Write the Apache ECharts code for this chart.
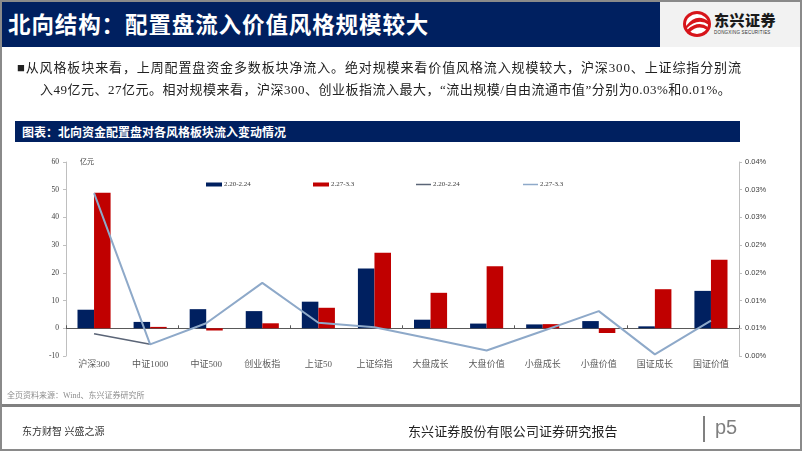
<!DOCTYPE html>
<html><head><meta charset="utf-8">
<script src="https://cdn.jsdelivr.net/npm/echarts@6.0.0/dist/echarts.min.js"></script>
<style>
html,body{margin:0;padding:0;}
body{width:802px;height:451px;overflow:hidden;position:relative;background:#fff;font-family:"Liberation Serif","Noto Sans CJK SC",serif;}
.abs{position:absolute;white-space:nowrap;}
</style></head>
<body>
<div id="chart" class="abs" style="left:0;top:0;width:802px;height:451px;"></div>

<div class="abs" style="left:0;top:0;width:660px;height:47px;background:#002060;"></div>
<div class="abs" style="left:8px;top:0;height:47px;line-height:47px;color:#fff;font-family:'Noto Sans CJK SC',sans-serif;font-weight:bold;font-size:22.5px;letter-spacing:0.9px;">北向结构：配置盘流入价值风格规模较大</div>
<div class="abs" style="left:660px;top:0;width:142px;height:47px;background:#F2F2F2;"></div>
<svg class="abs" style="left:682px;top:10px;" width="30" height="28" viewBox="0 0 30 28">
  <ellipse cx="15" cy="14" rx="14" ry="13" fill="#D7141A"/>
  <ellipse cx="15" cy="14" rx="11" ry="10" fill="#fff"/>
  <path d="M4,16 Q15,2 27,12 L27,15 Q16,7 4,19 Z" fill="#D7141A"/>
  <path d="M5,20 Q16,10 26,17 L25,20 Q16,14 7,23 Z" fill="#D7141A"/>
</svg>
<div class="abs" style="left:714px;top:11px;font-family:'Noto Sans CJK SC',sans-serif;font-weight:900;font-size:15px;color:#1a1a1a;letter-spacing:0.5px;line-height:18px;">东兴证券</div>
<div class="abs" style="left:714px;top:30px;font-family:'Liberation Sans',sans-serif;font-size:4.5px;color:#333;line-height:6px;letter-spacing:0.2px;">DONGXING SECURITIES</div>

<div class="abs" style="left:17px;top:59px;font-size:13px;line-height:18px;color:#222;letter-spacing:0.88px;">■从风格板块来看，上周配置盘资金多数板块净流入。绝对规模来看价值风格流入规模较大，沪深300、上证综指分别流</div>
<div class="abs" style="left:40px;top:81px;font-size:13px;line-height:18px;color:#222;letter-spacing:0.5px;">入49亿元、27亿元。相对规模来看，沪深300、创业板指流入最大，“流出规模/自由流通市值”分别为0.03%和0.01%。</div>

<div class="abs" style="left:15px;top:121px;width:725px;height:21px;background:#002060;"></div>
<div class="abs" style="left:22px;top:121px;height:21px;line-height:21px;color:#fff;font-family:'Noto Sans CJK SC',sans-serif;font-weight:bold;font-size:12px;">图表：北向资金配置盘对各风格板块流入变动情况</div>

<div class="abs" style="left:7px;top:391px;font-size:8px;line-height:10px;color:#8c8c8c;">全页资料来源：Wind、东兴证券研究所</div>
<div class="abs" style="left:0;top:404px;width:802px;height:3px;background:#808080;"></div>
<div class="abs" style="left:22px;top:425px;font-size:10px;line-height:14px;color:#333;">东方财智 兴盛之源</div>
<div class="abs" style="left:408px;top:423px;font-size:13px;line-height:18px;color:#222;letter-spacing:0.1px;">东兴证券股份有限公司证券研究报告</div>
<div class="abs" style="left:703px;top:416px;width:1.5px;height:26px;background:#808080;"></div>
<div class="abs" style="left:715px;top:415px;font-family:'Liberation Sans',sans-serif;font-size:20px;line-height:24px;color:#7f7f7f;">p5</div>

<div class="abs" style="left:0;top:0;width:798px;height:447px;border:2px solid #8a8a8a;pointer-events:none;"></div>

<script>
var categories = ['沪深300','中证1000','中证500','创业板指','上证50','上证综指','大盘成长','大盘价值','小盘成长','小盘价值','国证成长','国证价值'];
var flowPrev = [6.7, 2.3, 6.9, 6.2, 9.6, 21.6, 3.1, 1.7, 1.4, 2.6, 0.7, 13.5];
var flowCurr = [48.9, 0.5, -0.8, 1.8, 7.4, 27.3, 12.8, 22.4, 1.5, -1.7, 14.1, 24.7];
var ratioPrev = [0.0040, 0.0021, null, null, null, null, null, null, null, null, null, null];
var ratioCurr = [0.0294, 0.0021, 0.0059, 0.0132, 0.0060, 0.0052, 0.0031, 0.0010, 0.0045, 0.0081, 0.0003, 0.0064];
var periodNames = ['2.20-2.24', '2.27-3.3'];
var rightTickLabels = ['0.00%','0.01%','0.01%','0.02%','0.02%','0.03%','0.03%','0.04%'];
var unitLabel = '亿元';

var chart = echarts.init(document.getElementById('chart'), null, {renderer:'canvas'});
var serifFont = '"Liberation Serif","Noto Sans CJK SC",serif';
function legendAt(left, name){
  return {left:left, top:176, data:[name], itemGap:0,
    itemWidth:16, itemHeight:4, selectedMode:false,
    formatter:function(n){return n.replace(/^(bar|line) /,'');},
    textStyle:{fontSize:7, color:'#404040', fontFamily:serifFont, padding:[0,0,0,-3]}};
}
var option = {
  animation:false,
  grid:{left:66, right:63, top:162, bottom:95, containLabel:false},
  legend:[
    Object.assign(legendAt(201, 'bar '+periodNames[0]), {icon:'rect'}),
    Object.assign(legendAt(308, 'bar '+periodNames[1]), {icon:'rect'}),
    Object.assign(legendAt(411, 'line '+periodNames[0]), {icon:'rect', itemHeight:1.5, itemWidth:15}),
    Object.assign(legendAt(518, 'line '+periodNames[1]), {icon:'rect', itemHeight:1.5, itemWidth:15})
  ],
  graphic:[{type:'text', left:80, top:159, style:{text:unitLabel, fontSize:7, fill:'#404040', fontFamily:serifFont}}],
  xAxis:[
    {type:'category', data:categories, position:'bottom',
      axisLine:{show:false, onZero:false}, axisTick:{show:false},
      axisLabel:{fontSize:9, color:'#595959', fontFamily:serifFont, margin:4, interval:0}},
    {type:'category', data:categories, position:'bottom', gridIndex:0,
      axisLine:{show:true, onZero:true, lineStyle:{color:'#595959', width:1}},
      axisTick:{show:true, inside:true, length:3, lineStyle:{color:'#595959'}},
      axisLabel:{show:false}}
  ],
  yAxis:[
    {type:'value', min:-10, max:60, interval:10,
      axisLine:{show:true, lineStyle:{color:'#BFBFBF'}},
      axisTick:{show:true, length:3, lineStyle:{color:'#BFBFBF'}},
      splitLine:{show:false},
      axisLabel:{fontSize:7.5, color:'#404040', fontFamily:serifFont, margin:7}},
    {type:'value', min:0, max:0.035, interval:0.005, position:'right',
      axisLine:{show:true, lineStyle:{color:'#BFBFBF'}},
      axisTick:{show:true, length:3, lineStyle:{color:'#BFBFBF'}},
      splitLine:{show:false},
      axisLabel:{fontSize:7.5, color:'#404040', fontFamily:'"Liberation Sans",sans-serif', margin:6,
        formatter:function(v){return rightTickLabels[Math.round(v/0.005)] || '';}}}
  ],
  series:[
    {name:'bar '+periodNames[0], type:'bar', data:flowPrev, barGap:'0%', barCategoryGap:'41%',
      itemStyle:{color:'#002060'}, z:2},
    {name:'bar '+periodNames[1], type:'bar', data:flowCurr, barGap:'0%', barCategoryGap:'41%',
      itemStyle:{color:'#C00000'}, z:2},
    {name:'line '+periodNames[0], type:'line', yAxisIndex:1, data:ratioPrev, symbol:'none',
      lineStyle:{color:'#5B6577', width:1.5}, itemStyle:{color:'#5B6577'}, z:3},
    {name:'line '+periodNames[1], type:'line', yAxisIndex:1, data:ratioCurr, symbol:'none',
      lineStyle:{color:'#8EA9C9', width:2}, itemStyle:{color:'#8EA9C9'}, z:4}
  ]
};
chart.setOption(option);
</script>
</body></html>
